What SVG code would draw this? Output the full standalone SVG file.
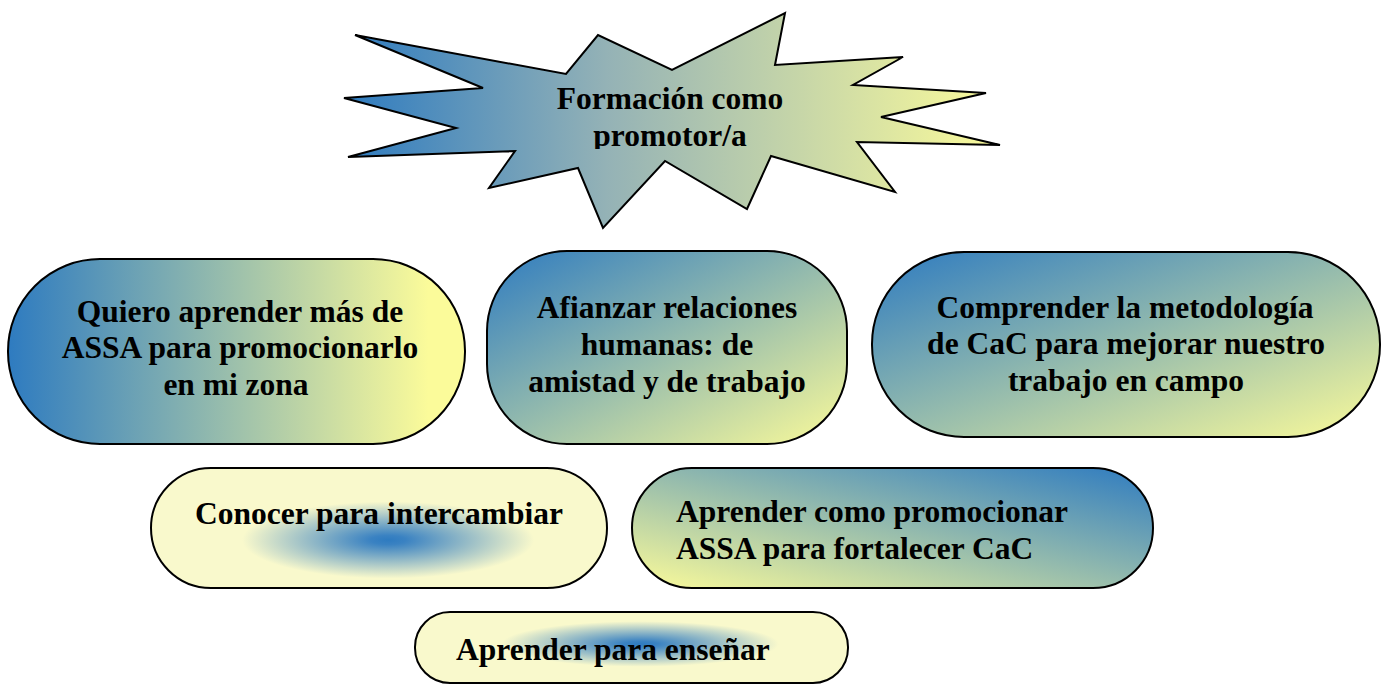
<svg xmlns="http://www.w3.org/2000/svg" width="1388" height="684" viewBox="0 0 1388 684">
<style>
.shape{stroke:#000;stroke-width:2}
.t{font-family:'Liberation Serif','Times New Roman',Times,serif;font-weight:700;font-size:31.5px;fill:#000}
.c{text-anchor:middle}
</style>
<defs>
<linearGradient id="gH" x1="0" y1="0" x2="1" y2="0">
<stop offset="0" stop-color="#2e7bc0"/>
<stop offset="0.92" stop-color="#fbfb9a"/>
</linearGradient>
<linearGradient id="gS" x1="0" y1="0" x2="1" y2="0">
<stop offset="0" stop-color="#2e7bc0"/>
<stop offset="0.4" stop-color="#94b2b6"/>
<stop offset="1" stop-color="#fbfb9a"/>
</linearGradient>
<linearGradient id="gD" x1="0" y1="0" x2="1" y2="1">
<stop offset="0" stop-color="#2e7bc0"/>
<stop offset="1" stop-color="#fbfb9a"/>
</linearGradient>
<linearGradient id="gR" x1="0" y1="1" x2="1" y2="0">
<stop offset="0" stop-color="#fbfb9a"/>
<stop offset="1" stop-color="#2e7bc0"/>
</linearGradient>
<radialGradient id="gC" cx="0.52" cy="0.6" r="0.32">
<stop offset="0" stop-color="#2e7bc0"/>
<stop offset="0.12" stop-color="#3a82c2"/>
<stop offset="1" stop-color="#f9f9cc"/>
</radialGradient>
<radialGradient id="gA" cx="0.52" cy="0.45" r="0.32">
<stop offset="0" stop-color="#2e7bc0"/>
<stop offset="0.12" stop-color="#3a82c2"/>
<stop offset="1" stop-color="#f9f9cc"/>
</radialGradient>
<clipPath id="starClip"><rect x="0" y="0" width="1388" height="149"/></clipPath>
</defs>

<g id="star">
<polygon class="shape" stroke-width="1.5" fill="url(#gS)" points="355,35 566,74 598,35 672,70 785,13 775,65 903,57 853,85 986,93 881,117 1000,145 857,142 895,192 771,156 747,209 665,161 603,228 578,168 489,188 515,151 348,157 456,128 344,98 483,88"/>
<g clip-path="url(#starClip)">
<text class="t c" x="670" y="109">Formación como</text>
<text class="t c" x="670" y="146">promotor/a</text>
</g>
</g>

<g id="node1">
<rect class="shape" x="8" y="259" width="457" height="185" rx="92" ry="92" fill="url(#gH)"/>
<text class="t c" x="240" y="322">Quiero aprender más de</text>
<text class="t c" x="240" y="358">ASSA para promocionarlo</text>
<text class="t c" x="236" y="395">en mi zona</text>
</g>

<g id="node2">
<rect class="shape" x="487" y="251" width="360" height="193" rx="80" ry="80" fill="url(#gD)"/>
<text class="t c" x="667" y="318">Afianzar relaciones</text>
<text class="t c" x="667" y="355">humanas: de</text>
<text class="t c" x="667" y="392">amistad y de trabajo</text>
</g>

<g id="node3">
<rect class="shape" x="872" y="252" width="508" height="185" rx="92" ry="92" fill="url(#gD)"/>
<text class="t c" x="1125" y="318">Comprender la metodología</text>
<text class="t c" x="1126" y="354">de CaC para mejorar nuestro</text>
<text class="t c" x="1126" y="391">trabajo en campo</text>
</g>

<g id="node4">
<rect class="shape" x="151" y="468" width="456" height="120" rx="60" ry="60" fill="url(#gC)"/>
<text class="t c" x="379" y="524">Conocer para intercambiar</text>
</g>

<g id="node5">
<rect class="shape" x="632" y="468" width="521" height="120" rx="60" ry="60" fill="url(#gR)"/>
<text class="t" x="676" y="522">Aprender como promocionar</text>
<text class="t" x="676" y="559">ASSA para fortalecer CaC</text>
</g>

<g id="node6">
<rect class="shape" x="415" y="612" width="433" height="71" rx="35" ry="35" fill="url(#gA)"/>
<text class="t" x="456" y="660">Aprender para enseñar</text>
</g>

<g id="connectors"></g>
</svg>
